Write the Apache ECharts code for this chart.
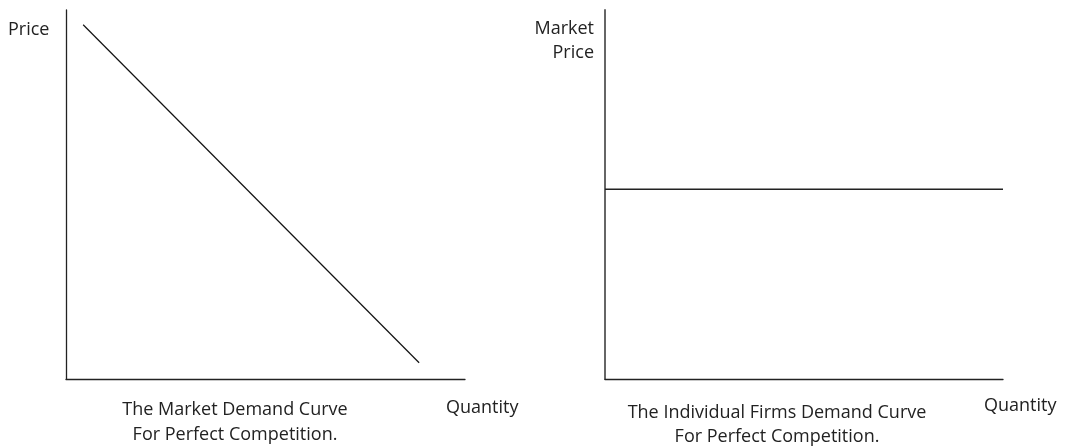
<!DOCTYPE html>
<html lang="en">
<head>
    <meta charset="UTF-8">
    <title>Perfect Competition Demand Curves</title>
    <script src="https://cdn.jsdelivr.net/npm/echarts@6/dist/echarts.min.js"></script>
    <style>
        html, body { margin: 0; padding: 0; background: #fff; }
        #chart { width: 1065px; height: 448px; }
    </style>
</head>
<body>
<div id="chart"></div>
<script>
    // market demand: downward sloping line [quantity, price]
    const marketDemand = [[4.3, 96], [88.5, 4.4]];
    // individual firm: flat at market price
    const firmDemand = [[0, 51.4], [100, 51.4]];
    const leftCaption = ['The Market Demand Curve', 'For Perfect Competition.'];
    const rightCaption = ['The Individual Firms Demand Curve', 'For Perfect Competition.'];

    const font = '"Open Sans", "Noto Sans", sans-serif';
    const chart = echarts.init(document.getElementById('chart'));

    function axisX(idx) {
        return {
            type: 'value', gridIndex: idx, min: 0, max: 100,
            axisLine: {onZero: false, lineStyle: {color: '#222', width: 1.3}},
            axisTick: {show: false}, axisLabel: {show: false}, splitLine: {show: false}
        };
    }
    function axisY(idx, color, width) {
        return {
            type: 'value', gridIndex: idx, min: 0, max: 100,
            axisLine: {show: true, onZero: false, lineStyle: {color: color, width: width}},
            axisTick: {show: false}, axisLabel: {show: false}, splitLine: {show: false}
        };
    }
    function txt(x, y, s, align) {
        return {
            type: 'text', x: x, y: y,
            style: {text: s, font: '18px ' + font, fill: '#222', align: align || 'left', verticalAlign: 'middle'}
        };
    }

    chart.setOption({
        animation: false,
        grid: [
            {left: 66, top: 10, width: 399, height: 369},
            {left: 605, top: 10, width: 398, height: 369}
        ],
        xAxis: [axisX(0), axisX(1)],
        yAxis: [axisY(0, '#222', 1.3), axisY(1, '#666', 2)],
        series: [
            {type: 'line', xAxisIndex: 0, yAxisIndex: 0, data: marketDemand, symbol: 'none',
             lineStyle: {color: '#111', width: 1.2}},
            {type: 'line', xAxisIndex: 1, yAxisIndex: 1, data: firmDemand, symbol: 'none',
             lineStyle: {color: '#222', width: 1.5}}
        ],
        graphic: [
            txt(8, 30, 'Price'),
            txt(594, 29, 'Market', 'right'),
            txt(594, 53, 'Price', 'right'),
            txt(446, 408, 'Quantity'),
            txt(984, 406, 'Quantity'),
            txt(235, 410, leftCaption[0], 'center'),
            txt(235, 435, leftCaption[1], 'center'),
            txt(777, 413, rightCaption[0], 'center'),
            txt(777, 437, rightCaption[1], 'center')
        ]
    });
</script>
</body>
</html>
